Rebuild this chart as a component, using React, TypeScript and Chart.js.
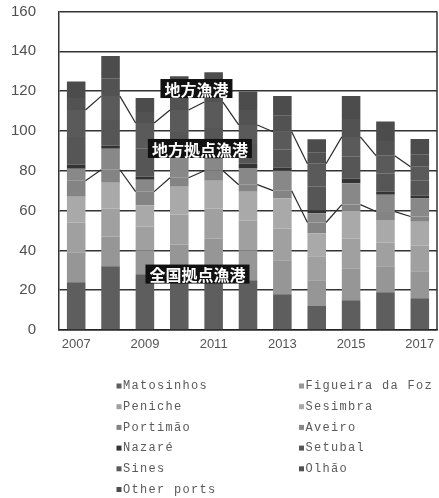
import React, { useEffect, useRef } from "react";
import { Chart, registerables } from "chart.js";

Chart.register(...registerables);

// ---- data ----
const years = ["2007", "2008", "2009", "2010", "2011", "2012", "2013", "2014", "2015", "2016", "2017"];
const yMin = 0;
const yMax = 160;
const yStep = 20;

const seriesNames = [
  "Matosinhos", "Figueira da Foz", "Peniche", "Sesimbra", "Portimão", "Aveiro",
  "Nazaré", "Setubal", "Sines", "Olhão", "Other ports",
];
const matosinhos = [24, 32, 28, 28, 30, 25, 18, 12, 15, 19, 16];
const figueira = [15, 15, 12, 15, 16, 15, 17, 13, 16, 13, 13.5];
const peniche = [15, 14, 12, 15, 15, 15, 16, 12, 15, 12, 13];
const sesimbra = [13, 13, 10.5, 14, 14, 14.5, 15, 11.6, 14, 11.3, 11.9];
const portimao = [8, 6.5, 7, 4.5, 5, 3.5, 4, 5.4, 3, 4.2, 2.6];
const aveiro = [6, 10.5, 6, 10.5, 6, 8.4, 10, 4.6, 10.7, 8.5, 9];
const nazare = [2, 1.5, 1.5, 1.5, 1.5, 2.1, 1.5, 1.4, 2.3, 1.5, 1.5];
const setubal = [14, 13, 14, 11, 14, 10, 9, 12, 11, 9, 7.5];
const sines = [13.5, 12, 13, 11, 13, 9.5, 9.1, 11.5, 10, 9, 7];
const olhao = [6, 9, 5.5, 7.5, 6.5, 7.5, 8, 5.5, 9, 7.5, 6];
const otherPorts = [8.3, 11.2, 7, 9.5, 8.5, 9.3, 10, 6.8, 11.6, 9.7, 8];

const seriesValues = [matosinhos, figueira, peniche, sesimbra, portimao, aveiro, nazare, setubal, sines, olhao, otherPorts];
const seriesColors = [
  "#5e5e5e", "#969696", "#a0a0a0", "#a9a9a9", "#848484", "#888888",
  "#333333", "#565656", "#5a5a5a", "#525252", "#4c4c4c",
];

// series lines drawn on top of these stack indices (group boundaries)
const groupBoundaryIndices = [4, 8];

// group labels: [text, category position, value]
const groupLabels: { text: string; at: number; value: number }[] = [
  { text: "地方漁港", at: 3.5, value: 121.3 },
  { text: "地方拠点漁港", at: 3.6, value: 91.2 },
  { text: "全国拠点漁港", at: 3.53, value: 28.1 },
];

const W = 439;
const H = 498;

export default function App() {
  const ref = useRef<HTMLCanvasElement | null>(null);

  useEffect(() => {
    if (!ref.current) return;

    const seriesLinePlugin = {
      id: "seriesLines",
      afterDatasetsDraw(chart: any) {
        const ctx = chart.ctx;
        ctx.save();
        ctx.strokeStyle = "#2a2a2a";
        ctx.lineWidth = 1.2;
        for (const di of groupBoundaryIndices) {
          const els = chart.getDatasetMeta(di).data;
          for (let i = 0; i < els.length - 1; i++) {
            const a = els[i];
            const b = els[i + 1];
            ctx.beginPath();
            ctx.moveTo(a.x + a.width / 2, a.y);
            ctx.lineTo(b.x - b.width / 2, b.y);
            ctx.stroke();
          }
        }
        ctx.restore();
      },
    };

    const framePlugin = {
      id: "frame",
      afterDraw(chart: any) {
        const ctx = chart.ctx;
        const ca = chart.chartArea;
        ctx.save();
        ctx.strokeStyle = "#333";
        ctx.lineWidth = 1.5;
        ctx.beginPath();
        ctx.moveTo(ca.right, ca.top);
        ctx.lineTo(ca.right, ca.bottom);
        ctx.stroke();
        ctx.restore();
      },
    };

    const labelPlugin = {
      id: "groupLabels",
      afterDraw(chart: any) {
        const ctx = chart.ctx;
        const xs = chart.scales.x;
        const ys = chart.scales.y;
        ctx.save();
        ctx.font = 'bold 16px "Noto Sans CJK JP"';
        ctx.textAlign = "center";
        ctx.textBaseline = "middle";
        for (const l of groupLabels) {
          const cx = xs.getPixelForValue(l.at);
          const cy = ys.getPixelForValue(l.value);
          const w = ctx.measureText(l.text).width + 8;
          const h = 19;
          ctx.fillStyle = "#111";
          ctx.fillRect(cx - w / 2, cy - h / 2, w, h);
          ctx.fillStyle = "#fff";
          ctx.fillText(l.text, cx, cy + 1);
        }
        ctx.restore();
      },
    };

    const legendPlugin = {
      id: "twoColLegend",
      afterDraw(chart: any) {
        const ctx = chart.ctx;
        ctx.save();
        ctx.font = '12px "Liberation Mono"';
        (ctx as any).letterSpacing = "1.3px";
        ctx.textBaseline = "middle";
        ctx.textAlign = "left";
        const colX = [116.5, 299];
        const rowY0 = 386;
        const rowStep = 20.7;
        chart.data.datasets.forEach((ds: any, i: number) => {
          const col = i % 2;
          const row = Math.floor(i / 2);
          const y = rowY0 + row * rowStep;
          ctx.fillStyle = ds.backgroundColor;
          ctx.fillRect(colX[col], y - 2.5, 5, 5);
          ctx.fillStyle = "#5a5a5a";
          ctx.fillText(ds.label, colX[col] + 6.5, y);
        });
        ctx.restore();
      },
    };

    const chart = new Chart(ref.current, {
      type: "bar",
      data: {
        labels: years,
        datasets: seriesValues.map((vals, i) => ({
          label: seriesNames[i],
          data: vals,
          backgroundColor: seriesColors[i],
          borderWidth: 0,
          barPercentage: 0.54,
          categoryPercentage: 1,
        })),
      },
      options: {
        animation: false,
        responsive: true,
        maintainAspectRatio: false,
        layout: { padding: { top: 11.5, right: 2, left: 0, bottom: 0 } },
        plugins: {
          legend: { display: false },
          tooltip: { enabled: false },
        },
        scales: {
          x: {
            stacked: true,
            afterFit: (s: any) => {
              s.height = H - 330;
              s.paddingLeft = 0;
              s.paddingRight = 0;
            },
            grid: { display: false, drawTicks: false },
            border: { display: true, color: "#222", width: 1.5 },
            ticks: {
              autoSkip: false,
              maxRotation: 0,
              padding: 7,
              color: "#555",
              font: { family: "Liberation Sans", size: 13 },
              callback: (_v: any, idx: number) => (idx % 2 === 0 ? years[idx] : ""),
            },
          },
          y: {
            stacked: true,
            min: yMin,
            max: yMax,
            afterFit: (s: any) => {
              s.width = 59;
              s.paddingTop = 0;
              s.paddingBottom = 0;
            },
            grid: { color: "#333", lineWidth: 1.5, drawTicks: false },
            border: { display: true, color: "#333", width: 1.5 },
            ticks: {
              stepSize: yStep,
              padding: 23,
              color: "#505050",
              font: { family: "Liberation Sans", size: 15 },
            },
          },
        },
      },
      plugins: [seriesLinePlugin, framePlugin, labelPlugin, legendPlugin],
    });

    return () => chart.destroy();
  }, []);

  return (
    <div style={{ position: "absolute", left: 0, top: 0, width: W, height: H, background: "#fff" }}>
      <canvas ref={ref} />
    </div>
  );
}
